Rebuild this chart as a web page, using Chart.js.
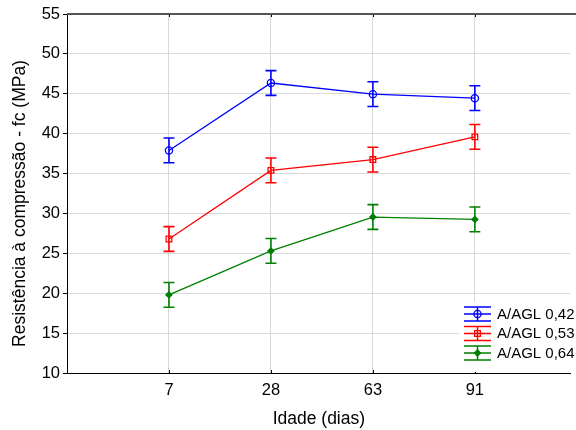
<!DOCTYPE html>
<html><head><meta charset="utf-8">
<script src="https://cdn.jsdelivr.net/npm/chart.js@4"></script>
<style>html,body{margin:0;padding:0;background:#fff}#wrap{width:576px;height:430px}</style>
</head><body><div id="wrap"><canvas id="c" width="576" height="430"></canvas></div>
<script>
const categories = ['7', '28', '63', '91'];
const seriesNames = ['A/AGL 0,42', 'A/AGL 0,53', 'A/AGL 0,64'];
const fc042 = [37.9, 46.35, 44.95, 44.45];
const fc053 = [26.8, 35.4, 36.75, 39.6];
const fc064 = [19.8, 25.3, 29.55, 29.25];
const err042 = [1.55, 1.55, 1.55, 1.55];
const err053 = [1.55, 1.55, 1.55, 1.55];
const err064 = [1.55, 1.55, 1.55, 1.55];
const yTicks = [10, 15, 20, 25, 30, 35, 40, 45, 50, 55];
const xTitle = 'Idade (dias)';
const yTitle = 'Resistência à compressão - fc (MPa)';

const FONT = '"Liberation Sans", Arial, sans-serif';
const colors = ['#0000ff', '#ff0000', '#008000'];
const styles = ['circle', 'rect', 'rectRot'];
const radii = [3.6, 4, 3];
const values = [fc042, fc053, fc064];
const errors = [err042, err053, err064];

function pts(arr) { return arr.map((v, i) => ({x: i + 1, y: v})); }

const datasets = values.map((arr, k) => ({
  label: seriesNames[k],
  data: pts(arr),
  borderColor: colors[k],
  backgroundColor: k === 2 ? colors[k] : 'rgba(0,0,0,0)',
  borderWidth: 1.3,
  pointStyle: styles[k],
  pointRadius: radii[k],
  pointBorderWidth: 1.3,
  pointBackgroundColor: k === 2 ? colors[k] : 'rgba(0,0,0,0)',
  pointBorderColor: colors[k],
  tension: 0,
  errs: errors[k]
}));

const errorBars = {
  id: 'errorBars',
  beforeDatasetsDraw(chart) {
    const ctx = chart.ctx, ys = chart.scales.y;
    chart.data.datasets.forEach((ds, k) => {
      const meta = chart.getDatasetMeta(k);
      ctx.save();
      ctx.strokeStyle = ds.borderColor;
      ctx.lineWidth = 1.6;
      meta.data.forEach((el, i) => {
        const v = ds.data[i].y, e = ds.errs[i];
        const x = el.x, y1 = ys.getPixelForValue(v + e), y2 = ys.getPixelForValue(v - e);
        ctx.beginPath();
        ctx.moveTo(x, y1); ctx.lineTo(x, y2);
        ctx.moveTo(x - 5.5, y1); ctx.lineTo(x + 5.5, y1);
        ctx.moveTo(x - 5.5, y2); ctx.lineTo(x + 5.5, y2);
        ctx.stroke();
      });
      ctx.restore();
    });
  }
};

const frame = {
  id: 'frame',
  afterDraw(chart) {
    const ctx = chart.ctx, a = chart.chartArea, xs = chart.scales.x;
    ctx.save();
    // inner x ticks
    ctx.strokeStyle = '#000'; ctx.lineWidth = 1;
    xs.ticks.forEach(t => {
      const x = Math.round(xs.getPixelForValue(t.value)) + 0.5;
      ctx.beginPath(); ctx.moveTo(x, a.bottom); ctx.lineTo(x, a.bottom - 3); ctx.stroke();
      ctx.beginPath(); ctx.moveTo(x, a.top); ctx.lineTo(x, a.top + 3); ctx.stroke();
    });
    // top line
    ctx.strokeStyle = '#555'; ctx.lineWidth = 2;
    ctx.beginPath(); ctx.moveTo(a.left, a.top); ctx.lineTo(chart.width, a.top); ctx.stroke();
    // y title
    ctx.save();
    ctx.translate(20.5, 203.5);
    ctx.rotate(-Math.PI / 2);
    ctx.fillStyle = '#000';
    ctx.font = '17.5px ' + FONT;
    ctx.textAlign = 'center';
    ctx.textBaseline = 'middle';
    ctx.fillText(yTitle, 0, 0);
    ctx.restore();
    // legend
    ctx.fillStyle = '#fff';
    ctx.fillRect(459, 302, chart.width - 459, 70);
    const x0 = 464, x1 = 491, xc = 477.5;
    const rowY = [314, 333.5, 353];
    chart.data.datasets.forEach((ds, k) => {
      const y = rowY[k];
      ctx.strokeStyle = ds.borderColor; ctx.lineWidth = 1.5;
      ctx.beginPath();
      ctx.moveTo(x0, y); ctx.lineTo(x1, y);
      ctx.moveTo(x0, y - 7); ctx.lineTo(x1, y - 7);
      ctx.moveTo(x0, y + 7); ctx.lineTo(x1, y + 7);
      ctx.moveTo(xc, y - 7); ctx.lineTo(xc, y + 7);
      ctx.stroke();
      ctx.fillStyle = k === 2 ? ds.borderColor : 'rgba(0,0,0,0)';
      ctx.strokeStyle = ds.borderColor;
      ctx.lineWidth = 1.3;
      Chart.helpers.drawPoint(ctx, {
        pointStyle: ds.pointStyle, radius: ds.pointRadius, borderWidth: 1.3, rotation: 0
      }, xc, y);
      ctx.fillStyle = '#000';
      ctx.font = '15px ' + FONT;
      ctx.textBaseline = 'middle';
      ctx.textAlign = 'left';
      ctx.fillText(ds.label, 497, y + 0.5);
    });
    ctx.restore();
  }
};

new Chart(document.getElementById('c'), {
  type: 'line',
  data: { datasets },
  plugins: [errorBars, frame],
  options: {
    responsive: false,
    animation: false,
    devicePixelRatio: 1,
    layout: { padding: { top: 14, right: 0, left: 0, bottom: 0 } },
    plugins: { legend: { display: false }, tooltip: { enabled: false } },
    scales: {
      x: {
        type: 'linear', min: 0, max: 4.94,
        afterBuildTicks: s => { s.ticks = categories.map((c, i) => ({ value: i + 1 })); },
        afterFit: s => { s.height = 57; },
        ticks: { callback: v => categories[v - 1], color: '#000', font: { family: FONT, size: 16.5 }, padding: 8, maxRotation: 0 },
        grid: { color: '#d9d9d9', drawTicks: false, lineWidth: 1 },
        border: { display: true, color: '#000', width: 1 },
        title: { display: true, text: xTitle, color: '#000', font: { family: FONT, size: 17.5 }, padding: { top: 0, bottom: 0 } }
      },
      y: {
        min: 10, max: 55,
        afterBuildTicks: s => { s.ticks = yTicks.map(v => ({ value: v })); },
        afterFit: s => { s.width = 67; },
        ticks: { color: '#000', font: { family: FONT, size: 16.5 }, padding: 3 },
        grid: { color: '#d9d9d9', tickColor: '#000', tickLength: 4, lineWidth: 1 },
        border: { display: true, color: '#000', width: 1 },
        title: { display: false }
      }
    }
  }
});
</script></body></html>
